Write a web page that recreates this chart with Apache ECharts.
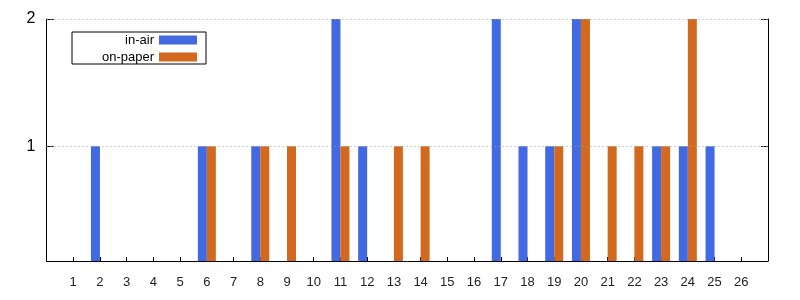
<!DOCTYPE html>
<html><head><meta charset="utf-8">
<script src="https://cdn.jsdelivr.net/npm/echarts@6/dist/echarts.min.js"></script>
<style>html,body{margin:0;padding:0;background:#fff}#c{width:800px;height:300px}</style>
</head><body><div id="c"></div>
<script>
const categories = [1,2,3,4,5,6,7,8,9,10,11,12,13,14,15,16,17,18,19,20,21,22,23,24,25,26];
const inAir   = [0,1,0,0,0,1,0,1,0,0,2,1,0,0,0,0,2,1,1,2,0,0,1,1,1,0];
const onPaper = [0,0,0,0,0,1,0,1,1,0,1,0,1,1,0,0,0,0,1,2,1,1,1,2,0,0];
const yTicks = [1,2];

const pairs = arr => categories.map((c,i)=>[c, arr[i] || null]);
const font = 'Liberation Sans, Arial, sans-serif';
const chart = echarts.init(document.getElementById('c'), null, {renderer:'canvas'});
const yBase = {
  type:'value', min:0.1, max:2,
  axisLine:{show:true, lineStyle:{color:'#000', width:1}},
  axisTick:{show:true, inside:true, length:7, customValues:yTicks, lineStyle:{color:'#000'}},
  axisLabel:{show:true, customValues:yTicks, color:'#000', fontSize:16, fontFamily:font, margin:11},
  splitLine:{show:false}
};
chart.setOption({
  animation:false,
  grid:{left:46.5, right:32, top:19, bottom:39, containLabel:false},
  legend:{
    left:72, top:32, orient:'vertical', align:'right',
    itemWidth:38, itemHeight:9, itemGap:3,
    padding:[1,9,0,2],
    borderColor:'#000', borderWidth:1,
    icon:'rect',
    textStyle:{color:'#000', fontSize:13, fontFamily:font, width:80, align:'right', lineHeight:14},
    data:['in-air','on-paper']
  },
  xAxis:{
    type:'value', min:0, max:27, interval:1,
    axisLine:{show:true, onZero:false, lineStyle:{color:'#000'}},
    axisTick:{show:true, inside:true, length:4, lineStyle:{color:'#000'}},
    axisLabel:{color:'#222', fontSize:13, fontFamily:font, margin:15,
      formatter:v => (v>=1 && v<=26) ? String(v) : ''},
    splitLine:{show:false}
  },
  yAxis:[
    Object.assign({}, yBase, {position:'left'}),
    Object.assign({}, yBase, {position:'right', axisLabel:{show:false}})
  ],
  series:[
    {name:'in-air', type:'bar', data:pairs(inAir), barWidth:9, barGap:'0%',
     itemStyle:{color:'#4169E1'}, yAxisIndex:0,
     markLine:{silent:true, symbol:'none', label:{show:false},
       lineStyle:{color:'#a0a0a0', type:[1,3], width:1},
       data:yTicks.map(v=>({yAxis:v}))}, z:1},
    {name:'on-paper', type:'bar', data:pairs(onPaper), barWidth:9, barGap:'0%',
     itemStyle:{color:'#D2691E'}, yAxisIndex:0, z:2}
  ]
});
</script></body></html>
